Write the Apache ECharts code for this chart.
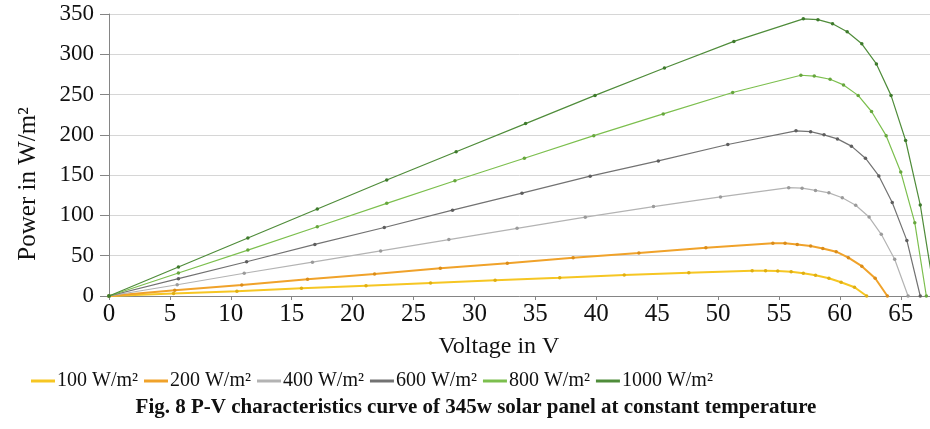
<!DOCTYPE html>
<html>
<head>
<meta charset="utf-8">
<script src="https://cdn.jsdelivr.net/npm/echarts@6/dist/echarts.min.js"></script>
<style>
html,body{margin:0;padding:0;background:#fff;}
#chart{width:930px;height:429px;}
</style>
</head>
<body>
<div id="chart"></div>
<script>
const seriesNames = ['100 W/m²','200 W/m²','400 W/m²','600 W/m²','800 W/m²','1000 W/m²'];

const volt100 = [0,5.3,10.5,15.8,21.1,26.4,31.7,37.0,42.3,47.6,52.8,53.9,54.9,56.0,57.0,58.0,59.1,60.1,61.2,62.2];
const pow100  = [0,3,6,9.5,12.8,16.1,19.5,22.7,26.1,29,31.4,31.4,31,30.2,28.2,25.7,22,17,10.8,0];

const volt200 = [0,5.4,10.9,16.3,21.8,27.2,32.7,38.1,43.5,49.0,54.5,55.5,56.5,57.6,58.6,59.7,60.7,61.8,62.9,63.9];
const pow200  = [0,7,13.7,20.7,27.3,34.4,40.6,47.6,53.4,60,65.5,65.5,64,62,59,55,47.6,37,22,0];

const volt400 = [0,5.6,11.1,16.7,22.3,27.9,33.5,39.1,44.7,50.2,55.8,56.9,58.0,59.1,60.2,61.3,62.4,63.4,64.5,65.6];
const pow400  = [0,14,28.2,42,56,70,84,97.8,111,123,134.5,133.8,131,128,122,112.7,98,76.6,45.6,0];

const volt600 = [0,5.7,11.3,16.9,22.6,28.2,33.9,39.5,45.1,50.8,56.4,57.6,58.7,59.8,60.95,62.1,63.2,64.3,65.5,66.6];
const pow600  = [0,21.5,42.5,64,85,106.5,127.6,148.7,167.7,188,205,204,200,195,186,171,149,116,69,0];

const volt800 = [0,5.7,11.4,17.1,22.8,28.4,34.1,39.8,45.5,51.2,56.8,57.9,59.2,60.3,61.5,62.6,63.8,65.0,66.15,67.1];
const pow800  = [0,28.5,57,86,115,143,171,199,226,252.6,274,273,269,262,249,229,199,154,91,0];

const volt1000 = [0,5.7,11.4,17.1,22.8,28.5,34.2,39.9,45.6,51.3,57.0,58.2,59.4,60.6,61.8,63.0,64.2,65.4,66.6,67.8];
const pow1000  = [0,36,72,108,144,179,214,249,283,316,344,343,338,328,313,288,249,193,113,0];

const xTicks = [0,5,10,15,20,25,30,35,40,45,50,55,60,65];
const yTicks = [0,50,100,150,200,250,300,350];

const volts = [volt100, volt200, volt400, volt600, volt800, volt1000];
const pows  = [pow100, pow200, pow400, pow600, pow800, pow1000];
const lineColors   = ['#F6C623','#F0A22A','#B3B3B3','#727272','#7CBF4E','#4F8C3A'];
const markerColors = ['#E0AE10','#DB8C18','#9A9A9A','#5E5E5E','#66A63C','#3E7A2C'];
const lineWidths   = [2,2,1.2,1.2,1.2,1.2];

const font = 'Liberation Serif';

const series = seriesNames.map((name, i) => ({
  name: name,
  type: 'line',
  data: volts[i].map((v, j) => [v, pows[i][j]]),
  symbol: 'circle',
  symbolSize: 3.5,
  showSymbol: true,
  lineStyle: { color: lineColors[i], width: lineWidths[i] },
  itemStyle: { color: markerColors[i] },
  emphasis: { disabled: true },
  clip: true,
  z: 2 + i
}));

const chart = echarts.init(document.getElementById('chart'), null, { renderer: 'canvas' });
chart.setOption({
  animation: false,
  backgroundColor: '#ffffff',
  grid: { left: 109, right: 0, top: 14, bottom: 133, containLabel: false },
  xAxis: {
    type: 'value',
    min: 0,
    max: 67.4,
    interval: 5,
    axisLine: { show: true, lineStyle: { color: '#858585', width: 1 } },
    axisTick: { show: true, length: 4, lineStyle: { color: '#858585' } },
    splitLine: { show: false },
    axisLabel: {
      fontFamily: font, fontSize: 25, color: '#111', margin: 6,
      showMaxLabel: false,
      formatter: v => (xTicks.indexOf(v) >= 0 ? String(v) : '')
    }
  },
  yAxis: {
    type: 'value',
    min: 0,
    max: 350,
    interval: 50,
    axisLine: { show: true, lineStyle: { color: '#858585', width: 1 } },
    axisTick: { show: true, length: 9, lineStyle: { color: '#858585' } },
    splitLine: { show: true, lineStyle: { color: '#d6d6d6', width: 1 } },
    axisLabel: {
      fontFamily: font, fontSize: 23, color: '#111', margin: 15,
      formatter: v => (yTicks.indexOf(v) >= 0 ? String(v) : '')
    }
  },
  legend: {
    left: 31,
    top: 371,
    icon: 'rect',
    itemWidth: 24,
    itemHeight: 3,
    itemGap: 6,
    padding: 0,
    textStyle: { fontFamily: font, fontSize: 20, color: '#111', padding: [0,0,0,-3] },
    data: seriesNames.map((n, i) => ({ name: n, itemStyle: { color: lineColors[i] } }))
  },
  graphic: [
    {
      type: 'text', x: 28, y: 184, rotation: Math.PI / 2,
      style: { text: 'Power in W/m²', font: '25px "Liberation Serif"', fill: '#111', align: 'center', verticalAlign: 'middle' }
    },
    {
      type: 'text', x: 499, y: 347,
      style: { text: 'Voltage in V', font: '24px "Liberation Serif"', fill: '#111', align: 'center', verticalAlign: 'middle' }
    },
    {
      type: 'text', x: 476, y: 408,
      style: { text: 'Fig. 8 P-V characteristics curve of 345w solar panel at constant temperature', font: 'bold 21px "Liberation Serif"', fill: '#111', align: 'center', verticalAlign: 'middle' }
    }
  ],
  series: series
});
</script>
</body>
</html>
